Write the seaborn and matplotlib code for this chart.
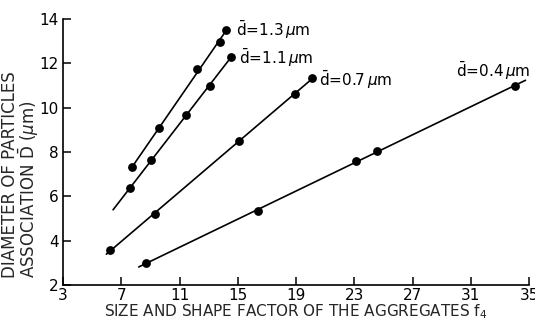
import numpy as np
import pandas as pd
import matplotlib
matplotlib.use("Agg")
import matplotlib.pyplot as plt
import seaborn as sns

# ---- data ----
series_names = ["1.3", "1.1", "0.7", "0.4"]
x_13 = [7.74, 9.6, 12.2, 13.8, 14.2]
y_13 = [7.31, 9.07, 11.73, 12.97, 13.5]
x_11 = [7.62, 9.0, 11.43, 13.1, 14.5]
y_11 = [6.37, 7.62, 9.67, 10.99, 12.27]
x_07 = [6.19, 9.32, 15.1, 18.9, 20.1]
y_07 = [3.58, 5.19, 8.5, 10.63, 11.32]
x_04 = [8.7, 16.36, 23.14, 24.57, 34.06]
y_04 = [3.0, 5.32, 7.6, 8.06, 10.98]
# fitted-line extent (x range) for each series
line_x_from = [7.74, 6.43, 5.97, 8.19]
line_x_to = [14.3, 14.6, 20.2, 34.75]

xticks = [3, 7, 11, 15, 19, 23, 27, 31, 35]
yticks = [2, 4, 6, 8, 10, 12, 14]

label_pos_x = [14.85, 15.05, 20.6, 30.0]
label_pos_y = [13.5, 12.24, 11.25, 11.65]

xs = [x_13, x_11, x_07, x_04]
ys = [y_13, y_11, y_07, y_04]

pts = pd.concat([pd.DataFrame({"x": x, "y": y, "s": n}) for x, y, n in zip(xs, ys, series_names)])

sns.set_theme(style="ticks")
plt.rcParams["font.family"] = ["DejaVu Sans"]
plt.rcParams["mathtext.fontset"] = "dejavusans"

fig = plt.figure(figsize=(5.35, 3.2), dpi=100)
ax = fig.add_axes([0.118, 0.109, 0.871, 0.832])

# fitted lines
rows = []
for x, y, n, a, b in zip(xs, ys, series_names, line_x_from, line_x_to):
    k, c = np.polyfit(x, y, 1)
    xx = np.array([a, b])
    rows.append(pd.DataFrame({"x": xx, "y": k * xx + c, "s": n}))
lines = pd.concat(rows)
for n in series_names:
    sns.lineplot(data=lines[lines.s == n], x="x", y="y", ax=ax, color="black",
                 linewidth=1.2, legend=False, sort=False)

sns.scatterplot(data=pts, x="x", y="y", ax=ax, color="black", s=40,
                edgecolor="black", linewidth=0, legend=False, zorder=3)

for n, lx, ly in zip(series_names, label_pos_x, label_pos_y):
    ax.text(lx, ly, r"$\bar{\mathrm{d}}$=" + n + r"$\,\mu$m", fontsize=11,
            ha="left", va="center", color="black")

ax.set_xlim(3, 35)
ax.set_ylim(2, 14)
ax.set_xticks(xticks)
ax.set_yticks(yticks)
ax.tick_params(direction="in", length=6, width=1.1, labelsize=11, colors="black")
ax.tick_params(axis="x", pad=2)
ax.tick_params(axis="y", pad=3)
for s in ["top", "right"]:
    ax.spines[s].set_visible(False)
for s in ["left", "bottom"]:
    ax.spines[s].set_linewidth(1.2)
    ax.spines[s].set_color("black")

ax.set_xlabel(r"SIZE AND SHAPE FACTOR OF THE AGGREGATES f$_4$", fontsize=11,
              va="top")
ax.xaxis.set_label_coords(0.5, -0.066)
ax.set_ylabel("DIAMETER OF PARTICLES\n" + r"ASSOCIATION $\bar{\mathrm{D}}$ ($\mu$m)",
              fontsize=12, multialignment="left", linespacing=0.85)
ax.yaxis.set_label_coords(-0.048, 0.415)

fig.savefig("out.png", dpi=100)
